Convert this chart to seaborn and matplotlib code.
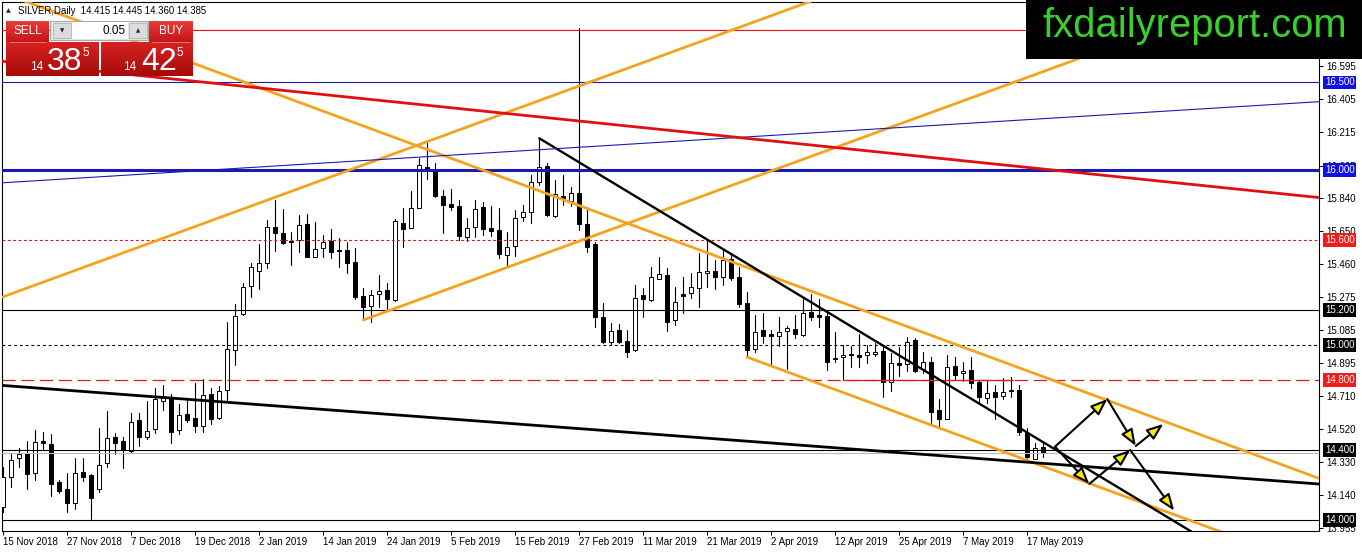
import numpy as np
import pandas as pd
import matplotlib
matplotlib.use("Agg")
import matplotlib.pyplot as plt
import matplotlib.transforms as mtransforms
from matplotlib.patches import Rectangle
from matplotlib.colors import LinearSegmentedColormap
import seaborn as sns

# ---------------- data (SILVER daily, 15 Nov 2018 .. 21 May 2019) ----------------
opens = [14.076, 14.248, 14.352, 14.383, 14.270, 14.451, 14.434, 14.217, 14.175, 14.099,
         14.272, 14.255, 14.179, 14.324, 14.472, 14.450, 14.396, 14.570, 14.476, 14.518,
         14.682, 14.695, 14.514, 14.604, 14.583, 14.539, 14.718, 14.581, 14.743, 14.969,
         15.177, 15.337, 15.421, 15.467, 15.672, 15.638, 15.596, 15.600, 15.690, 15.505,
         15.552, 15.594, 15.541, 15.543, 15.472, 15.280, 15.225, 15.290, 15.314, 15.257,
         15.695, 15.667, 15.785, 16.019, 16.000, 15.851, 15.806, 15.794, 15.619, 15.672,
         15.787, 15.667, 15.657, 15.512, 15.566, 15.730, 15.762, 15.933, 16.023, 15.739,
         15.851, 15.825, 15.867, 15.691, 15.577, 15.158, 15.019, 15.086, 15.025, 14.971,
         15.288, 15.257, 15.379, 15.400, 15.143, 15.291, 15.295, 15.324, 15.410, 15.423,
         15.387, 15.490, 15.387, 15.238, 14.977, 15.086, 15.061, 15.053, 15.078, 15.091,
         15.055, 15.187, 15.171, 15.166, 14.928, 14.930, 14.947, 14.941, 14.941, 14.947,
         14.968, 14.790, 14.895, 14.891, 15.029, 14.861, 14.901, 14.629, 14.577, 14.880,
         14.838, 14.857, 14.790, 14.699, 14.733, 14.710, 14.743, 14.743, 14.495, 14.347,
         14.415]
highs = [14.305, 14.381, 14.409, 14.451, 14.514, 14.505, 14.491, 14.229, 14.267, 14.352,
         14.352, 14.262, 14.524, 14.623, 14.495, 14.476, 14.610, 14.610, 14.682, 14.756,
         14.771, 14.718, 14.663, 14.686, 14.781, 14.804, 14.752, 14.766, 15.133, 15.234,
         15.352, 15.471, 15.577, 15.714, 15.829, 15.777, 15.648, 15.743, 15.749, 15.703,
         15.627, 15.661, 15.610, 15.590, 15.552, 15.324, 15.314, 15.400, 15.356, 15.718,
         15.781, 15.882, 16.067, 16.152, 16.038, 15.886, 15.889, 15.829, 15.724, 15.829,
         15.819, 15.794, 15.781, 15.648, 15.771, 15.800, 15.971, 16.181, 16.038, 15.943,
         15.971, 15.901, 16.811, 15.787, 15.590, 15.238, 15.128, 15.118, 15.086, 15.343,
         15.324, 15.444, 15.501, 15.438, 15.333, 15.387, 15.410, 15.524, 15.596, 15.486,
         15.543, 15.524, 15.444, 15.305, 15.171, 15.181, 15.086, 15.158, 15.109, 15.171,
         15.267, 15.291, 15.261, 15.181, 15.076, 15.000, 14.994, 15.063, 15.000, 15.013,
         14.990, 14.952, 14.990, 15.048, 15.038, 14.962, 14.933, 14.690, 14.943, 14.933,
         14.901, 14.933, 14.800, 14.800, 14.771, 14.810, 14.819, 14.771, 14.524, 14.442,
         14.445]
lows = [14.048, 14.190, 14.301, 14.177, 14.229, 14.400, 14.139, 14.152, 14.048, 14.063,
        14.221, 14.008, 14.158, 14.305, 14.375, 14.295, 14.385, 14.425, 14.465, 14.495,
        14.629, 14.442, 14.491, 14.562, 14.501, 14.501, 14.549, 14.575, 14.676, 14.886,
        15.170, 15.276, 15.318, 15.438, 15.539, 15.575, 15.457, 15.533, 15.505, 15.505,
        15.501, 15.495, 15.448, 15.410, 15.265, 15.147, 15.133, 15.219, 15.204, 15.253,
        15.558, 15.667, 15.781, 15.947, 15.848, 15.642, 15.771, 15.600, 15.596, 15.615,
        15.629, 15.623, 15.495, 15.448, 15.508, 15.710, 15.699, 15.914, 15.737, 15.733,
        15.800, 15.794, 15.657, 15.533, 15.105, 15.010, 15.000, 15.010, 14.933, 14.968,
        15.162, 15.253, 15.375, 15.082, 15.114, 15.181, 15.267, 15.219, 15.333, 15.318,
        15.343, 15.371, 15.219, 14.930, 14.962, 15.013, 14.890, 14.994, 14.861, 15.038,
        15.051, 15.143, 15.101, 14.857, 14.905, 14.800, 14.876, 14.876, 14.895, 14.937,
        14.701, 14.739, 14.823, 14.853, 14.848, 14.838, 14.556, 14.530, 14.575, 14.800,
        14.796, 14.752, 14.667, 14.670, 14.575, 14.690, 14.701, 14.486, 14.352, 14.347,
        14.360]
closes = [14.244, 14.341, 14.377, 14.265, 14.444, 14.438, 14.208, 14.168, 14.095, 14.267,
          14.248, 14.128, 14.312, 14.467, 14.442, 14.400, 14.558, 14.472, 14.510, 14.691,
          14.701, 14.505, 14.600, 14.571, 14.539, 14.714, 14.575, 14.737, 14.975, 15.168,
          15.330, 15.448, 15.471, 15.676, 15.642, 15.585, 15.590, 15.684, 15.505, 15.547,
          15.587, 15.533, 15.535, 15.467, 15.272, 15.219, 15.286, 15.307, 15.261, 15.710,
          15.661, 15.781, 16.029, 16.000, 15.853, 15.798, 15.787, 15.623, 15.667, 15.775,
          15.661, 15.651, 15.520, 15.558, 15.724, 15.758, 15.930, 16.015, 15.743, 15.861,
          15.832, 15.867, 15.691, 15.562, 15.162, 15.019, 15.080, 15.019, 14.962, 15.267,
          15.261, 15.390, 15.406, 15.133, 15.244, 15.282, 15.330, 15.415, 15.423, 15.390,
          15.486, 15.381, 15.232, 14.971, 15.076, 15.053, 15.051, 15.072, 15.097, 15.061,
          15.181, 15.162, 15.158, 14.905, 14.920, 14.943, 14.941, 14.933, 14.958, 14.960,
          14.787, 14.895, 14.886, 15.019, 14.853, 14.901, 14.619, 14.577, 14.872, 14.829,
          14.852, 14.781, 14.705, 14.724, 14.705, 14.733, 14.735, 14.505, 14.358, 14.410,
          14.385]

date_labels = ["15 Nov 2018", "27 Nov 2018", "7 Dec 2018", "19 Dec 2018", "2 Jan 2019",
               "14 Jan 2019", "24 Jan 2019", "5 Feb 2019", "15 Feb 2019", "27 Feb 2019",
               "11 Mar 2019", "21 Mar 2019", "2 Apr 2019", "12 Apr 2019", "25 Apr 2019",
               "7 May 2019", "17 May 2019"]
date_label_bars = [0, 8, 16, 24, 32, 40, 48, 56, 64, 72, 80, 88, 96, 104, 112, 120, 128]

price_ticks = [16.595, 16.405, 16.215, 16.025, 15.840, 15.650, 15.460, 15.275, 15.085,
               14.895, 14.710, 14.520, 14.330, 14.140, 13.955]

# horizontal levels: price, colour, style, width
level_prices = [16.8, 16.5, 16.0, 15.6, 15.2, 15.0, 14.8, 14.4, 14.385, 14.0]
level_colors = ["#e81010", "#1a1ab4", "#1a1ab4", "#e01818", "black", "black", "#e01818",
                "black", "#b8b8b8", "black"]
level_styles = ["-", "-", "-", (0, (2.6, 2.2)), "-", (0, (2.6, 2.6)), (0, (10.5, 4.5)),
                "-", "-", "-"]
level_widths = [0.8, 0.8, 2.2, 0.8, 0.8, 0.8, 0.9, 0.8, 0.8, 0.8]

# price boxes on the right scale
box_prices = [16.5, 16.0, 15.6, 15.2, 15.0, 14.8, 14.4, 14.0]
box_texts = ["16.500", "16.000", "15.600", "15.200", "15.000", "14.800", "14.400", "14.000"]
box_colors = ["#1010e8", "#1010e8", "#f01c1c", "black", "black", "#f01c1c", "black", "black"]

# trend lines: two anchor points (bar index, price) and kind
trend_p0 = [(3.375, 16.954), (93.0, 14.931), (-0.375, 15.269), (45.04, 15.143),
            (67.04, 16.181), (-0.375, 14.770), (-0.375, 15.926), (20.0, 16.526)]
trend_p1 = [(164.375, 14.240), (254.0, 12.217), (55.875, 16.210), (82.10, 15.762),
            (132.0, 14.390), (164.375, 14.206), (164.375, 16.390), (164.375, 15.843)]
trend_kind = ["line", "ray", "line", "ray", "ray", "line", "line", "line"]
trend_color = ["#f5a21e", "#f5a21e", "#f5a21e", "#f5a21e", "black", "black", "#1a1ab4", "#e01010"]
trend_width = [2.0, 2.0, 2.0, 2.0, 1.7, 2.0, 0.8, 2.0]

# short red support segment at 14.800
seg_start, seg_end, seg_price = 105.0, 126.3, 14.8

# projected path arrows (bar index, price)
arrow_from = [(131.5, 14.419), (138.04, 14.691), (141.6, 14.423),
              (131.5, 14.419), (135.79, 14.206), (140.9, 14.400)]
arrow_to = [(138.04, 14.691), (141.6, 14.423), (145.04, 14.549),
            (135.79, 14.206), (140.9, 14.400), (146.4, 14.053)]

# ---------------- figure ----------------
sns.set_style("white")
plt.rcParams["font.family"] = ["Liberation Sans", "DejaVu Sans"]

W, H = 1362, 552
fig = plt.figure(figsize=(W / 100, H / 100), dpi=100)
fig.patch.set_facecolor("white")
ax = fig.add_axes([2 / W, (H - 531) / H, 1317 / W, 529 / H])
ax.set_facecolor("white")

n = len(opens)
idx = np.arange(n)
o = np.array(opens); c = np.array(closes)
hi = np.array(highs); lo = np.array(lows)

# wicks via seaborn (one unit per bar)
wick_df = pd.DataFrame({"bar": np.repeat(idx, 2),
                        "price": np.column_stack([lo, hi]).ravel()})
sns.lineplot(data=wick_df, x="bar", y="price", units="bar", estimator=None,
             color="black", lw=0.8, ax=ax, legend=False, zorder=2)

# bodies
bottoms = np.minimum(o, c)
heights = np.maximum(np.abs(c - o), 0.004)
body_colors = ["white" if cc >= oo else "black" for oo, cc in zip(o, c)]
ax.bar(idx, heights, bottom=bottoms, width=0.5, color=body_colors,
       edgecolor="black", linewidth=0.7, zorder=3)

# horizontal levels
for p, col, ls, lw in zip(level_prices, level_colors, level_styles, level_widths):
    ax.axhline(p, color=col, linestyle=ls, lw=lw, zorder=4)

ax.plot([seg_start, seg_end], [seg_price, seg_price], color="#e01818", lw=0.9, zorder=4)

# trend lines (seaborn)
x_lo, x_hi = -3.0, 175.0
for p0, p1, kind, col, lw in zip(trend_p0, trend_p1, trend_kind, trend_color, trend_width):
    slope = (p1[1] - p0[1]) / (p1[0] - p0[0])
    xa = x_lo if kind == "line" else p0[0]
    xb = x_hi
    xs = [xa, xb]
    ys = [p0[1] + slope * (xa - p0[0]), p0[1] + slope * (xb - p0[0])]
    sns.lineplot(x=xs, y=ys, color=col, lw=lw, ax=ax, zorder=5, legend=False)

# arrows
for a, b in zip(arrow_from, arrow_to):
    ax.annotate("", xy=b, xytext=a, xycoords="data", textcoords="data",
                arrowprops=dict(arrowstyle="-|>,head_length=1.0,head_width=0.38",
                                mutation_scale=10, fc="#f5ec00", ec="black",
                                lw=1.5, shrinkA=0, shrinkB=0), zorder=6)

# axes limits / frame
ax.set_xlim(-0.125, 164.5)
ax.set_ylim(13.9371, 16.96)
ax.set_xlabel(""); ax.set_ylabel("")
for s in ax.spines.values():
    s.set_visible(True)
    s.set_color("black")
    s.set_linewidth(0.8)

ax.yaxis.tick_right()
ax.set_yticks(price_ticks)
ax.set_yticklabels([f"{v:.3f}" for v in price_ticks])
ax.tick_params(axis="y", which="both", right=True, left=False, direction="out",
               length=3, width=0.7, pad=2, labelsize=7, colors="black")
ax.set_xticks(date_label_bars)
ax.set_xticklabels(date_labels, ha="left")
ax.tick_params(axis="x", which="both", bottom=True, direction="out", length=3,
               width=0.7, pad=1.5, labelsize=7, colors="black")
for lbl in ax.get_xticklabels():
    lbl.set_horizontalalignment("left")

trans = mtransforms.blended_transform_factory(ax.transAxes, ax.transData)
for p, t, col in zip(box_prices, box_texts, box_colors):
    ax.text(1.0046, p, t, transform=trans, ha="left", va="center", fontsize=7,
            color="white", zorder=10, clip_on=False,
            bbox=dict(boxstyle="square,pad=0.18", fc=col, ec="none"))

# ---------------- overlay: header, trade panel, logo ----------------
ov = fig.add_axes([0, 0, 1, 1], zorder=20)
ov.patch.set_alpha(0)


def grad_box(x0, y0, w, h, top, bottom):
    cmap = LinearSegmentedColormap.from_list("g", [top, bottom])
    g = np.linspace(0, 1, 64).reshape(-1, 1)
    ov.imshow(g, cmap=cmap, extent=(x0, x0 + w, y0 + h, y0), origin="upper",
              aspect="auto", interpolation="bilinear", zorder=1)


grad_box(6, 21, 43, 21, "#ea3b3b", "#c41616")
grad_box(149, 21, 44, 21, "#ea3b3b", "#c41616")
grad_box(6, 42, 93, 34, "#d82222", "#a50b0b")
grad_box(101, 42, 92, 34, "#d82222", "#a50b0b")
ov.set_xlim(0, W); ov.set_ylim(H, 0); ov.axis("off")

ov.text(8, 11, "▲", fontsize=4.5, ha="center", va="center", family=["DejaVu Sans"])
ov.text(18, 11, "SILVER,Daily  14.415 14.445 14.360 14.385", fontsize=6.9,
        ha="left", va="center", color="black")

ov.add_patch(Rectangle((50, 21), 98, 19, fc="#e6e6e6", ec="#a8a8a8", lw=0.8, zorder=2))
ov.add_patch(Rectangle((72, 22), 56, 17, fc="white", ec="none", zorder=2))
ov.add_patch(Rectangle((53, 23), 18, 15, fc="#dcdcdc", ec="#b4b4b4", lw=0.6, zorder=2))
ov.add_patch(Rectangle((129, 23), 18, 15, fc="#dcdcdc", ec="#b4b4b4", lw=0.6, zorder=2))
ov.text(62, 30.5, "▼", fontsize=4, ha="center", va="center", family=["DejaVu Sans"])
ov.text(138, 30.5, "▲", fontsize=4, ha="center", va="center", family=["DejaVu Sans"])
ov.text(126, 31, "0.05", fontsize=8.5, ha="right", va="center", color="black")
ov.text(27.5, 31.5, "SELL", fontsize=8.5, ha="center", va="center", color="white")
ov.text(171, 31.5, "BUY", fontsize=8.5, ha="center", va="center", color="white")
ov.plot([10, 46], [42, 42], color="#f08080", lw=0.6)
ov.plot([152, 190], [42, 42], color="#f08080", lw=0.6)
ov.text(37, 70, "14", fontsize=8.5, ha="center", va="baseline", color="white")
ov.text(47, 70, "38", fontsize=23, ha="left", va="baseline", color="white")
ov.text(86, 56, "5", fontsize=8.5, ha="center", va="baseline", color="white")
ov.text(130, 70, "14", fontsize=8.5, ha="center", va="baseline", color="white")
ov.text(141, 70, "42", fontsize=23, ha="left", va="baseline", color="white")
ov.text(180, 56, "5", fontsize=8.5, ha="center", va="baseline", color="white")

ov.add_patch(Rectangle((1026, 0), W - 1026, 58.7, fc="black", ec="none", zorder=2))
ov.text(1042, 37, "fxdailyreport.com", fontsize=28.8, ha="left", va="baseline",
        color="#38d02a", zorder=3)

fig.savefig("out.png", dpi=100, facecolor="white")
